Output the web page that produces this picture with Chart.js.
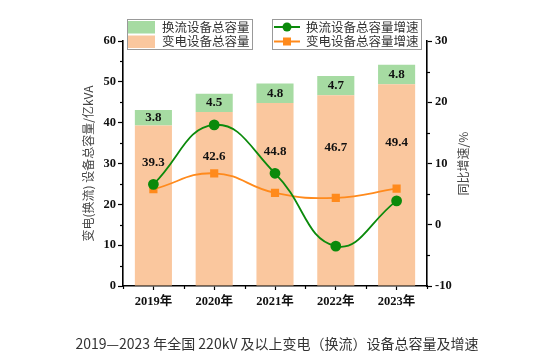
<!DOCTYPE html>
<html><head><meta charset="utf-8">
<script src="https://cdn.jsdelivr.net/npm/chart.js@4.4.0/dist/chart.umd.min.js"></script>
<style>
html,body{margin:0;padding:0;background:#fff;}
#wrap{position:relative;width:554px;height:355px;}
#c{position:absolute;left:0;top:0;}
#title{position:absolute;left:0;width:554px;top:333px;text-align:center;font:14px "Noto Sans CJK SC","Noto Sans",sans-serif;color:#333;line-height:20px;}
</style></head>
<body><div id="wrap"><canvas id="c" width="554" height="355"></canvas>
<div id="title">2019—2023 年全国 220kV 及以上变电（换流）设备总容量及增速</div></div>
<script>
const categories = ['2019年','2020年','2021年','2022年','2023年'];
const substationCap = [39.3, 42.6, 44.8, 46.7, 49.4];
const converterCap = [3.8, 4.5, 4.8, 4.7, 4.8];
const converterGrowth = [6.6, 16.3, 8.4, -3.5, 3.9];
const substationGrowth = [5.8, 8.4, 5.2, 4.4, 5.9];
const leftTicks = [0,10,20,30,40,50,60];
const rightTicks = [-10,0,10,20,30];
const leftTitle = '变电(换流) 设备总容量/亿kVA';
const rightTitle = '同比增速/%';

const SERIF = '"Liberation Serif","Noto Sans CJK SC",serif';
const CJK = '"Noto Sans CJK SC","Noto Sans",sans-serif';
const C_ORANGE_BAR = '#FAC79E', C_GREEN_BAR = '#A6DBA2';
const C_GREEN_LINE = '#0B8A0B', C_ORANGE_LINE = '#FF8A1C';
const PLOT = {left:123, right:427, top:41, bottom:286};

const extras = {
  id:'extras',
  afterDatasetsDraw(chart){
    const ctx = chart.ctx, y = chart.scales.y, x = chart.scales.x;
    ctx.save();
    ctx.fillStyle = '#111';
    ctx.font = 'bold 13px ' + SERIF;
    ctx.textAlign = 'center'; ctx.textBaseline = 'middle';
    categories.forEach((c,i)=>{
      const px = x.getPixelForValue(i);
      ctx.fillText(substationCap[i].toFixed(1), px, y.getPixelForValue(substationCap[i]/2 + 10.5));
      ctx.fillText(converterCap[i].toFixed(1), px, y.getPixelForValue(substationCap[i] + converterCap[i]/2));
    });
    ctx.restore();
  },
  afterDraw(chart){
    const ctx = chart.ctx, y = chart.scales.y, x = chart.scales.x, y2 = chart.scales.y2;
    ctx.save();
    ctx.strokeStyle = '#000'; ctx.lineWidth = 1.2;
    // minor ticks
    for (let v = 5; v < 60; v += 10) {
      const py = Math.round(y.getPixelForValue(v)) + 0.5;
      ctx.beginPath(); ctx.moveTo(PLOT.left - 3, py); ctx.lineTo(PLOT.left, py); ctx.stroke();
    }
    for (let v = -5; v < 30; v += 10) {
      const py = Math.round(y2.getPixelForValue(v)) + 0.5;
      ctx.beginPath(); ctx.moveTo(PLOT.right, py); ctx.lineTo(PLOT.right + 3, py); ctx.stroke();
    }
    for (let i = 0; i <= categories.length; i++) {
      const px = Math.round(x.getPixelForValue(i - 0.5)) + 0.5;
      ctx.beginPath(); ctx.moveTo(px, PLOT.bottom); ctx.lineTo(px, PLOT.bottom + 3); ctx.stroke();
    }
    // right axis title, reading bottom-to-top
    ctx.save();
    ctx.translate(463, (chart.chartArea.top + chart.chartArea.bottom) / 2);
    ctx.rotate(-Math.PI / 2);
    ctx.font = '12px ' + CJK; ctx.fillStyle = '#444';
    ctx.textAlign = 'center'; ctx.textBaseline = 'middle';
    ctx.fillText(rightTitle, 0, 0);
    ctx.restore();
    // legends
    const ds = chart.data.datasets;
    ctx.lineWidth = 1; ctx.strokeStyle = '#999';
    ctx.fillStyle = '#fff';
    ctx.fillRect(127.5, 19.5, 125, 30); ctx.strokeRect(127.5, 19.5, 125, 30);
    ctx.fillRect(272.5, 19.5, 149, 30); ctx.strokeRect(272.5, 19.5, 149, 30);
    ctx.font = '12.5px ' + CJK; ctx.textAlign = 'left'; ctx.textBaseline = 'middle';
    const barRows = [ds[1], ds[0]];
    barRows.forEach((d, r) => {
      const cy = 27 + r * 14.5;
      ctx.fillStyle = d.backgroundColor; ctx.fillRect(128, cy - 6, 27, 12.5);
      ctx.fillStyle = '#333'; ctx.fillText(d.label, 162, cy);
    });
    const lineRows = [ds[2], ds[3]];
    lineRows.forEach((d, r) => {
      const cy = 27 + r * 14.5;
      ctx.strokeStyle = d.borderColor; ctx.lineWidth = 2;
      ctx.beginPath(); ctx.moveTo(274, cy); ctx.lineTo(300, cy); ctx.stroke();
      ctx.fillStyle = d.borderColor;
      if (d.pointStyle === 'rect') { ctx.fillRect(283, cy - 4, 8, 8); }
      else { ctx.beginPath(); ctx.arc(287, cy, 4.5, 0, Math.PI * 2); ctx.fill(); }
      ctx.fillStyle = '#333'; ctx.fillText(d.label, 306, cy);
    });
    ctx.restore();
  }
};

new Chart(document.getElementById('c'), {
  data: {
    labels: categories,
    datasets: [
      {type:'bar', label:'变电设备总容量', data:substationCap, backgroundColor:C_ORANGE_BAR, yAxisID:'y', stack:'s', order:3, barPercentage:0.61, categoryPercentage:1},
      {type:'bar', label:'换流设备总容量', data:converterCap, backgroundColor:C_GREEN_BAR, yAxisID:'y', stack:'s', order:3, barPercentage:0.61, categoryPercentage:1},
      {type:'line', label:'换流设备总容量增速', data:converterGrowth, borderColor:C_GREEN_LINE, backgroundColor:C_GREEN_LINE, yAxisID:'y2', tension:0.45, borderWidth:1.8, pointStyle:'circle', pointRadius:4.5, order:1, clip:false},
      {type:'line', label:'变电设备总容量增速', data:substationGrowth, borderColor:C_ORANGE_LINE, backgroundColor:C_ORANGE_LINE, yAxisID:'y2', tension:0.45, borderWidth:1.8, pointStyle:'rect', pointRadius:4.5, order:2, clip:false}
    ]
  },
  options: {
    responsive:false, animation:false, devicePixelRatio:1,
    layout:{padding:{top:PLOT.top, left:0, right:0, bottom:0}},
    plugins:{legend:{display:false}, tooltip:{enabled:false}},
    scales:{
      x:{type:'category', stacked:true, offset:true,
        grid:{display:true, drawOnChartArea:false, offset:false, tickLength:4, color:'#000', tickWidth:1.2},
        border:{display:true, color:'#000', width:1.6},
        ticks:{color:'#111', font:{family:SERIF, size:12.5, weight:'bold'}, padding:4, maxRotation:0},
        afterFit(s){ s.height = 355 - PLOT.bottom; }
      },
      y:{type:'linear', position:'left', stacked:true, min:0, max:60,
        afterBuildTicks(s){ s.ticks = leftTicks.map(v=>({value:v})); },
        grid:{display:true, drawOnChartArea:false, tickLength:5, color:'#000', tickWidth:1.2},
        border:{display:true, color:'#000', width:1.6},
        ticks:{color:'#111', font:{family:SERIF, size:12.5, weight:'bold'}, padding:2},
        title:{display:true, text:leftTitle, color:'#444', font:{family:CJK, size:12}, padding:{top:81, bottom:0}},
        afterFit(s){ s.width = PLOT.left; }
      },
      y2:{type:'linear', position:'right', min:-10, max:30,
        afterBuildTicks(s){ s.ticks = rightTicks.map(v=>({value:v})); },
        grid:{display:true, drawOnChartArea:false, tickLength:5, color:'#000', tickWidth:1.2},
        border:{display:true, color:'#000', width:1.6},
        ticks:{color:'#111', font:{family:SERIF, size:12.5, weight:'bold'}, padding:3},
        title:{display:false},
        afterFit(s){ s.width = 554 - PLOT.right; }
      }
    }
  },
  plugins:[extras]
});
</script></body></html>
